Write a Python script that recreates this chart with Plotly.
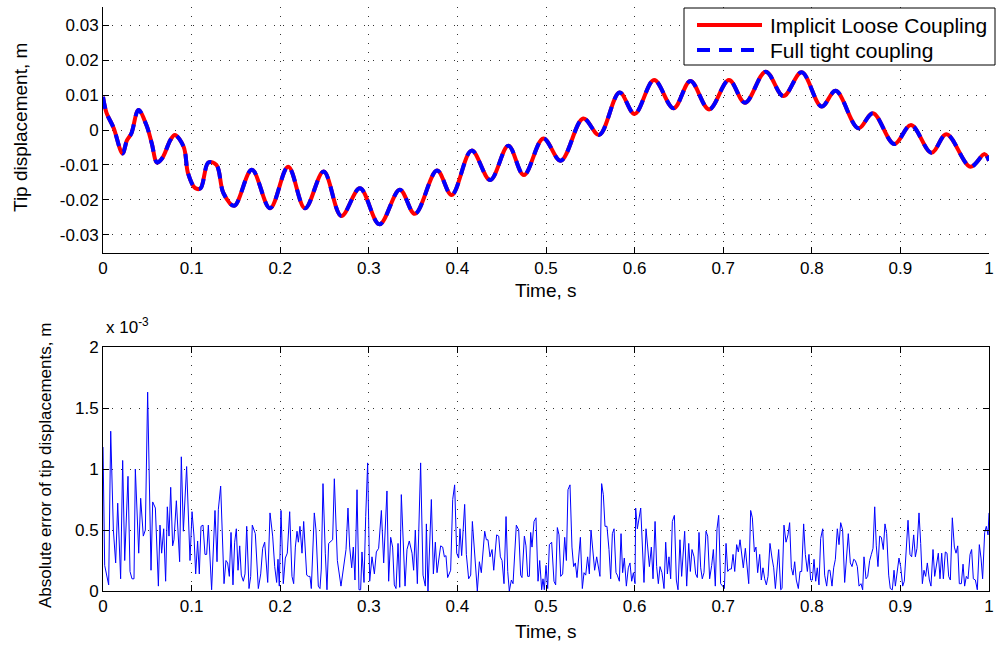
import plotly.graph_objects as go

# ---------------- data ----------------
# Tip displacement (m): turning points of the response over time (s)
tip_time = [0.000, 0.004, 0.012, 0.022, 0.027, 0.032, 0.040, 0.049, 0.055, 0.061,
            0.067, 0.076, 0.081, 0.091, 0.096, 0.104, 0.110, 0.119, 0.128, 0.136,
            0.148, 0.168, 0.1885, 0.209, 0.228, 0.249, 0.269, 0.290, 0.312, 0.335,
            0.352, 0.377, 0.3935, 0.416, 0.437, 0.4575, 0.475, 0.497, 0.5166, 0.542,
            0.560, 0.583, 0.600, 0.622, 0.644, 0.663, 0.684, 0.7065, 0.7246, 0.748,
            0.768, 0.7885, 0.811, 0.827, 0.8525, 0.869, 0.893, 0.912, 0.935, 0.952,
            0.979, 0.995, 1.000]
tip_loose = [0.0095, 0.0049, 0.0006, -0.0067, -0.0030, -0.0010, 0.0057, 0.0014, -0.0038, -0.0093,
             -0.0080, -0.0029, -0.0014, -0.0048, -0.0124, -0.0166, -0.0167, -0.0093, -0.0100, -0.0181,
             -0.0217, -0.0114, -0.0224, -0.0105, -0.0224, -0.0119, -0.0246, -0.0167, -0.0270, -0.0171,
             -0.0240, -0.0116, -0.0186, -0.0059, -0.0143, -0.0045, -0.0129, -0.0024, -0.0088, 0.0033,
             -0.0014, 0.0107, 0.0046, 0.0143, 0.0062, 0.0140, 0.0059, 0.0143, 0.0078, 0.0167,
             0.0097, 0.0165, 0.0067, 0.0112, 0.0005, 0.0048, -0.0040, 0.0014, -0.0065, -0.0012,
             -0.0105, -0.0069, -0.0088]
tip_tight = list(tip_loose)

# Absolute error of tip displacement, in units of 1e-3 m
err_time = [
    0.0000, 0.0019, 0.0064, 0.0087, 0.0117, 0.0143, 0.0166, 0.0199, 0.0222, 0.0245,
    0.0282, 0.0305, 0.0327, 0.0350, 0.0365, 0.0403, 0.0425, 0.0455, 0.0478, 0.0504,
    0.0542, 0.0561, 0.0591, 0.0625, 0.0643, 0.0662, 0.0685, 0.0707, 0.0726, 0.0745,
    0.0764, 0.0786, 0.0801, 0.0828, 0.0865, 0.0884, 0.0907, 0.0944, 0.0982, 0.1005,
    0.1027, 0.1046, 0.1068, 0.1087, 0.1106, 0.1129, 0.1151, 0.1170, 0.1189, 0.1226,
    0.1264, 0.1287, 0.1302, 0.1328, 0.1366, 0.1388, 0.1407, 0.1426, 0.1445, 0.1467,
    0.1486, 0.1505, 0.1524, 0.1543, 0.1561, 0.1584, 0.1603, 0.1622, 0.1648, 0.1667,
    0.1685, 0.1719, 0.1753, 0.1780, 0.1802, 0.1825, 0.1859, 0.1885, 0.1915, 0.1938,
    0.1960, 0.1975, 0.1990, 0.2009, 0.2035, 0.2058, 0.2080, 0.2107, 0.2133, 0.2152,
    0.2171, 0.2190, 0.2205, 0.2223, 0.2246, 0.2265, 0.2299, 0.2318, 0.2336, 0.2351,
    0.2385, 0.2404, 0.2430, 0.2449, 0.2464, 0.2483, 0.2509, 0.2528,
    0.2547, 0.2570, 0.2592, 0.2611, 0.2645, 0.2686, 0.2720, 0.2743, 0.2765, 0.2784,
    0.2807, 0.2825, 0.2844, 0.2867, 0.2889, 0.2908, 0.2923, 0.2946, 0.2965, 0.2987,
    0.3010, 0.3036, 0.3063, 0.3085, 0.3111, 0.3142, 0.3168, 0.3205, 0.3224, 0.3247,
    0.3269, 0.3288, 0.3307, 0.3330, 0.3349, 0.3367, 0.3409, 0.3431, 0.3457, 0.3488,
    0.3506, 0.3525, 0.3548, 0.3585, 0.3612, 0.3638, 0.3650, 0.3668, 0.3706, 0.3729,
    0.3751, 0.3770, 0.3811, 0.3834, 0.3853, 0.3871, 0.3890, 0.3924, 0.3947, 0.3969,
    0.3992, 0.4014, 0.4029, 0.4048, 0.4082, 0.4101, 0.4127, 0.4150, 0.4169, 0.4191,
    0.4225, 0.4248, 0.4270, 0.4308, 0.4327, 0.4345, 0.4368, 0.4391, 0.4410, 0.4443,
    0.4466, 0.4485, 0.4504, 0.4526, 0.4549, 0.4568, 0.4586, 0.4609, 0.4628, 0.4665,
    0.4692, 0.4714, 0.4729, 0.4756, 0.4774, 0.4793, 0.4812, 0.4827, 0.4842, 0.4865,
    0.4887, 0.4910, 0.4929, 0.4951, 0.4966, 0.4981, 0.5000, 0.5019, 0.5038,
    0.5064, 0.5090, 0.5109, 0.5128, 0.5147, 0.5166, 0.5188, 0.5211, 0.5230, 0.5248,
    0.5271, 0.5293, 0.5312, 0.5331, 0.5350, 0.5388, 0.5410, 0.5429, 0.5448, 0.5470,
    0.5489, 0.5508, 0.5549, 0.5572, 0.5609, 0.5628, 0.5647, 0.5666, 0.5688, 0.5711,
    0.5730, 0.5749, 0.5768, 0.5790, 0.5805, 0.5828, 0.5847, 0.5865, 0.5884, 0.5907,
    0.5929, 0.5948, 0.5967, 0.5986, 0.6005, 0.6012, 0.6031, 0.6069, 0.6106, 0.6129,
    0.6167, 0.6189, 0.6208, 0.6231, 0.6249, 0.6268, 0.6287, 0.6309, 0.6332, 0.6351,
    0.6370, 0.6388, 0.6407, 0.6426, 0.6449, 0.6471, 0.6490, 0.6512, 0.6531, 0.6565,
    0.6588, 0.6611, 0.6629, 0.6648, 0.6671, 0.6689, 0.6708, 0.6727, 0.6746, 0.6764,
    0.6783, 0.6806, 0.6825, 0.6847, 0.6870, 0.6889, 0.6911, 0.6930, 0.6949, 0.6971,
    0.6994, 0.7013, 0.7032, 0.7051, 0.7073, 0.7092, 0.7111, 0.7130, 0.7152, 0.7171,
    0.7190, 0.7209, 0.7227, 0.7250, 0.7269, 0.7288, 0.7310, 0.7329, 0.7352, 0.7370,
    0.7389, 0.7412, 0.7430, 0.7449, 0.7468, 0.7487, 0.7506, 0.7528, 0.7551,
    0.7570, 0.7589, 0.7607, 0.7626, 0.7649, 0.7664, 0.7686, 0.7709, 0.7731, 0.7750,
    0.7769, 0.7788, 0.7807, 0.7825, 0.7848, 0.7867, 0.7886, 0.7908, 0.7927, 0.7950,
    0.7968, 0.7987, 0.8006, 0.8025, 0.8044, 0.8062, 0.8081, 0.8100, 0.8123, 0.8145,
    0.8168, 0.8187, 0.8205, 0.8228, 0.8247, 0.8266, 0.8288, 0.8307, 0.8326, 0.8348,
    0.8371, 0.8390, 0.8412, 0.8435, 0.8454, 0.8473, 0.8491, 0.8514, 0.8533, 0.8555,
    0.8574, 0.8589, 0.8612, 0.8631, 0.8653, 0.8672, 0.8691, 0.8710, 0.8728, 0.8747,
    0.8766, 0.8785, 0.8807, 0.8826, 0.8845, 0.8868, 0.8886, 0.8909, 0.8928, 0.8943,
    0.8965, 0.8984, 0.9003, 0.9026, 0.9044, 0.9063, 0.9086, 0.9108, 0.9127, 0.9150,
    0.9169, 0.9187, 0.9210, 0.9229, 0.9248, 0.9266, 0.9285, 0.9304, 0.9327, 0.9345,
    0.9368, 0.9387, 0.9406, 0.9428, 0.9447, 0.9466, 0.9485, 0.9507, 0.9526, 0.9545,
    0.9564, 0.9586, 0.9609, 0.9628, 0.9647, 0.9665, 0.9688, 0.9707, 0.9725, 0.9744,
    0.9763, 0.9786, 0.9804, 0.9823, 0.9846, 0.9868, 0.9891, 0.9910, 0.9928, 0.9951,
    0.9970, 0.9989, 1.0000]
err_value = [
    1.18, 0.21, 0.05, 1.31, 0.50, 0.23, 0.72, 0.10, 1.07, 0.25,
    0.94, 0.16, 0.10, 0.10, 1.00, 0.31, 0.76, 0.45, 0.50, 1.63,
    0.17, 0.73, 0.68, 0.04, 0.54, 0.31, 0.51, 0.08, 0.69, 0.45,
    0.85, 0.37, 0.42, 0.74, 0.24, 1.10, 0.49, 1.02, 0.25, 0.65,
    0.45, 0.14, 0.41, 0.14, 0.53, 0.54, 0.30, 0.30, 0.54, 0.01,
    0.66, 0.24, 0.67, 0.86, 0.06, 0.25, 0.23, 0.12, 0.48, 0.05,
    0.40, 0.51, 0.17, 0.37, 0.13, 0.08, 0.14, 0.53, 0.02, 0.12,
    0.54, 0.47, 0.02, 0.14, 0.35, 0.40, 0.07, 0.64, 0.45, 0.20,
    0.07, 0.26, 0.04, 0.66, 0.06, 0.27, 0.31, 0.65, 0.12, 0.06,
    0.36, 0.49, 0.40, 0.53, 0.31, 0.57, 0.13, 0.12, 0.12, 0.02,
    0.64, 0.50, 0.04, 0.02, 0.18, 0.88, 0.31, 0.01,
    0.39, 0.41, 0.42, 0.92, 0.25, 0.04, 0.25, 0.34, 0.68, 0.36,
    0.19, 0.36, 0.09, 0.83, 0.01, 0.01, 0.32, 0.07, 0.61, 1.05,
    0.08, 0.28, 0.14, 0.32, 0.35, 0.66, 0.23, 0.82, 0.08, 0.44,
    0.36, 0.05, 0.02, 0.39, 0.03, 0.79, 0.04, 0.34, 0.41, 0.31,
    0.17, 0.50, 0.06, 1.05, 0.13, 0.04, 0.55, 0.00, 0.75, 0.14,
    0.40, 0.15, 0.37, 0.36, 0.28, 0.29, 0.11, 0.17, 0.75, 0.87,
    0.31, 0.27, 0.51, 0.29, 0.71, 0.30, 0.10, 0.13, 0.57, 0.36,
    0.00, 0.24, 0.15, 0.49, 0.42, 0.42, 0.28, 0.34, 0.17, 0.46,
    0.45, 0.28, 0.25, 0.06, 0.61, 0.16, 0.00, 0.09, 0.06, 0.54,
    0.50, 0.13, 0.11, 0.45, 0.37, 0.12, 0.12, 0.48, 0.36, 0.57,
    0.60, 0.08, 0.25, 0.01, 0.10, 0.01, 0.21, 0.02, 0.38,
    0.40, 0.08, 0.05, 0.52, 0.46, 0.12, 0.14, 0.44, 0.25, 0.83,
    0.87, 0.36, 0.20, 0.23, 0.11, 0.44, 0.02, 0.15, 0.13, 0.28,
    0.14, 0.50, 0.17, 0.28, 0.12, 0.88, 0.79, 0.53, 0.53, 0.34,
    0.10, 0.47, 0.51, 0.15, 0.13, 0.08, 0.47, 0.15, 0.27, 0.04,
    0.19, 0.23, 0.08, 0.15, 0.06, 0.68, 0.51, 0.68, 0.07, 0.51,
    0.20, 0.36, 0.10, 0.57, 0.20, 0.06, 0.20, 0.15, 0.02, 0.40,
    0.14, 0.28, 0.10, 0.57, 0.62, 0.09, 0.01, 0.42, 0.12, 0.49,
    0.04, 0.39, 0.16, 0.34, 0.28, 0.14, 0.11, 0.48, 0.19, 0.10,
    0.15, 0.49, 0.45, 0.10, 0.21, 0.34, 0.04, 0.51, 0.62, 0.06,
    0.04, 0.02, 0.39, 0.16, 0.18, 0.18, 0.30, 0.16, 0.38, 0.32,
    0.42, 0.28, 0.19, 0.35, 0.19, 0.06, 0.66, 0.60, 0.32, 0.36,
    0.15, 0.30, 0.09, 0.19, 0.10, 0.05, 0.12, 0.39, 0.27,
    0.19, 0.02, 0.19, 0.34, 0.01, 0.02, 0.54, 0.40, 0.46, 0.56,
    0.19, 0.13, 0.24, 0.09, 0.02, 0.16, 0.16, 0.55, 0.30, 0.16,
    0.30, 0.09, 0.09, 0.26, 0.08, 0.19, 0.05, 0.43, 0.51, 0.13,
    0.04, 0.17, 0.17, 0.04, 0.19, 0.26, 0.51, 0.38, 0.56, 0.50,
    0.07, 0.27, 0.47, 0.23, 0.20, 0.26, 0.25, 0.20, 0.04, 0.06,
    0.01, 0.28, 0.10, 0.12, 0.25, 0.30, 0.35, 0.69, 0.37, 0.20,
    0.45, 0.44, 0.34, 0.55, 0.47, 0.13, 0.02, 0.01, 0.17, 0.04,
    0.19, 0.27, 0.20, 0.04, 0.08, 0.36, 0.58, 0.30, 0.28, 0.46,
    0.28, 0.35, 0.64, 0.39, 0.06, 0.17, 0.12, 0.23, 0.09, 0.04,
    0.34, 0.12, 0.20, 0.31, 0.10, 0.31, 0.10, 0.32, 0.31, 0.12,
    0.09, 0.60, 0.36, 0.31, 0.37, 0.06, 0.06, 0.22, 0.04, 0.12,
    0.10, 0.30, 0.34, 0.10, 0.09, 0.01, 0.38, 0.27, 0.10, 0.48,
    0.53, 0.46, 0.64]

time_ticks = [0, 0.1, 0.2, 0.3, 0.4, 0.5, 0.6, 0.7, 0.8, 0.9, 1]
time_labels = ["0", "0.1", "0.2", "0.3", "0.4", "0.5", "0.6", "0.7", "0.8", "0.9", "1"]
tip_ticks = [-0.03, -0.02, -0.01, 0, 0.01, 0.02, 0.03]
tip_labels = ["-0.03", "-0.02", "-0.01", "0", "0.01", "0.02", "0.03"]
err_ticks = [0, 0.5, 1, 1.5, 2]
err_labels = ["0", "0.5", "1", "1.5", "2"]

# ---------------- layout helpers ----------------
W, H = 998, 646
FONT = "Liberation Sans, Arial, Helvetica, sans-serif"


def px(x):
    return x / W


def py(y):
    return 1 - y / H


fig = go.Figure()

fig.add_trace(go.Scatter(x=tip_time, y=tip_loose, mode="lines",
                         name="Implicit Loose Coupling",
                         line=dict(color="#ff0000", width=4, shape="spline", smoothing=1.0),
                         xaxis="x", yaxis="y", showlegend=False))
fig.add_trace(go.Scatter(x=tip_time, y=tip_tight, mode="lines",
                         name="Full tight coupling",
                         line=dict(color="#0000ff", width=4, dash="12px,8px",
                                   shape="spline", smoothing=1.0),
                         xaxis="x", yaxis="y", showlegend=False))
fig.add_trace(go.Scatter(x=err_time, y=err_value, mode="lines",
                         line=dict(color="#0000ff", width=1),
                         xaxis="x2", yaxis="y2", showlegend=False))

grid = dict(showgrid=True, gridcolor="#333333", gridwidth=1, griddash="1px,8px",
            zeroline=False, showline=True, linecolor="black", linewidth=1,
            ticks="inside", ticklen=6, tickcolor="black", tickwidth=1,
            automargin=False,
            tickfont=dict(family=FONT, size=17, color="black"))

fig.update_layout(
    width=W, height=H,
    margin=dict(l=0, r=0, t=0, b=0, autoexpand=False),
    paper_bgcolor="white", plot_bgcolor="white",
    xaxis=dict(domain=[px(103), px(989)], range=[0, 1], anchor="y",
               tickvals=time_ticks, ticktext=time_labels, mirror=False, **grid),
    yaxis=dict(domain=[py(253), py(7)], range=[-0.0352, 0.0352], anchor="x",
               tickvals=tip_ticks, ticktext=tip_labels, mirror=False, **grid),
    xaxis2=dict(domain=[px(103), px(989)], range=[0, 1], anchor="y2",
                tickvals=time_ticks, ticktext=time_labels, mirror="ticks", **grid),
    yaxis2=dict(domain=[py(591), py(347)], range=[0, 2], anchor="x2",
                tickvals=err_ticks, ticktext=err_labels, mirror="ticks", **grid),
)

title_font = dict(family=FONT, size=19, color="black")
annotations = [
    dict(text="Time, s", x=px(546), y=py(290), xref="paper", yref="paper",
         showarrow=False, font=title_font, xanchor="center", yanchor="middle"),
    dict(text="Time, s", x=px(546), y=py(631), xref="paper", yref="paper",
         showarrow=False, font=title_font, xanchor="center", yanchor="middle"),
    dict(text="Tip displacement, m", x=px(20), y=py(128), xref="paper", yref="paper",
         showarrow=False, font=title_font, textangle=-90,
         xanchor="center", yanchor="middle"),
    dict(text="Absolute error of tip displacements, m", x=px(45), y=py(466),
         xref="paper", yref="paper", showarrow=False,
         font=dict(family=FONT, size=17, color="black"), textangle=-90,
         xanchor="center", yanchor="middle"),
    dict(text="x 10<sup>-3</sup>", x=px(104), y=py(326), xref="paper", yref="paper",
         showarrow=False, font=dict(family=FONT, size=17, color="black"),
         xanchor="left", yanchor="middle"),
    # legend entries
    dict(text="Implicit Loose Coupling", x=px(768), y=py(25), xref="paper", yref="paper",
         showarrow=False, font=dict(family=FONT, size=21, color="black"),
         xanchor="left", yanchor="middle"),
    dict(text="Full tight coupling", x=px(768), y=py(50), xref="paper", yref="paper",
         showarrow=False, font=dict(family=FONT, size=21, color="black"),
         xanchor="left", yanchor="middle"),
]

shapes = [
    # legend frame
    dict(type="rect", xref="paper", yref="paper", x0=px(684), x1=px(995), y0=py(65), y1=py(8),
         line=dict(color="black", width=1), fillcolor="white", layer="above"),
    dict(type="line", xref="paper", yref="paper", x0=px(697), x1=px(762), y0=py(25), y1=py(25),
         line=dict(color="#ff0000", width=4), layer="above"),
    dict(type="line", xref="paper", yref="paper", x0=px(697), x1=px(762), y0=py(50), y1=py(50),
         line=dict(color="#0000ff", width=4, dash="13px,9px"), layer="above"),
]

fig.update_layout(annotations=annotations, shapes=shapes)

fig.write_html("out.html")
